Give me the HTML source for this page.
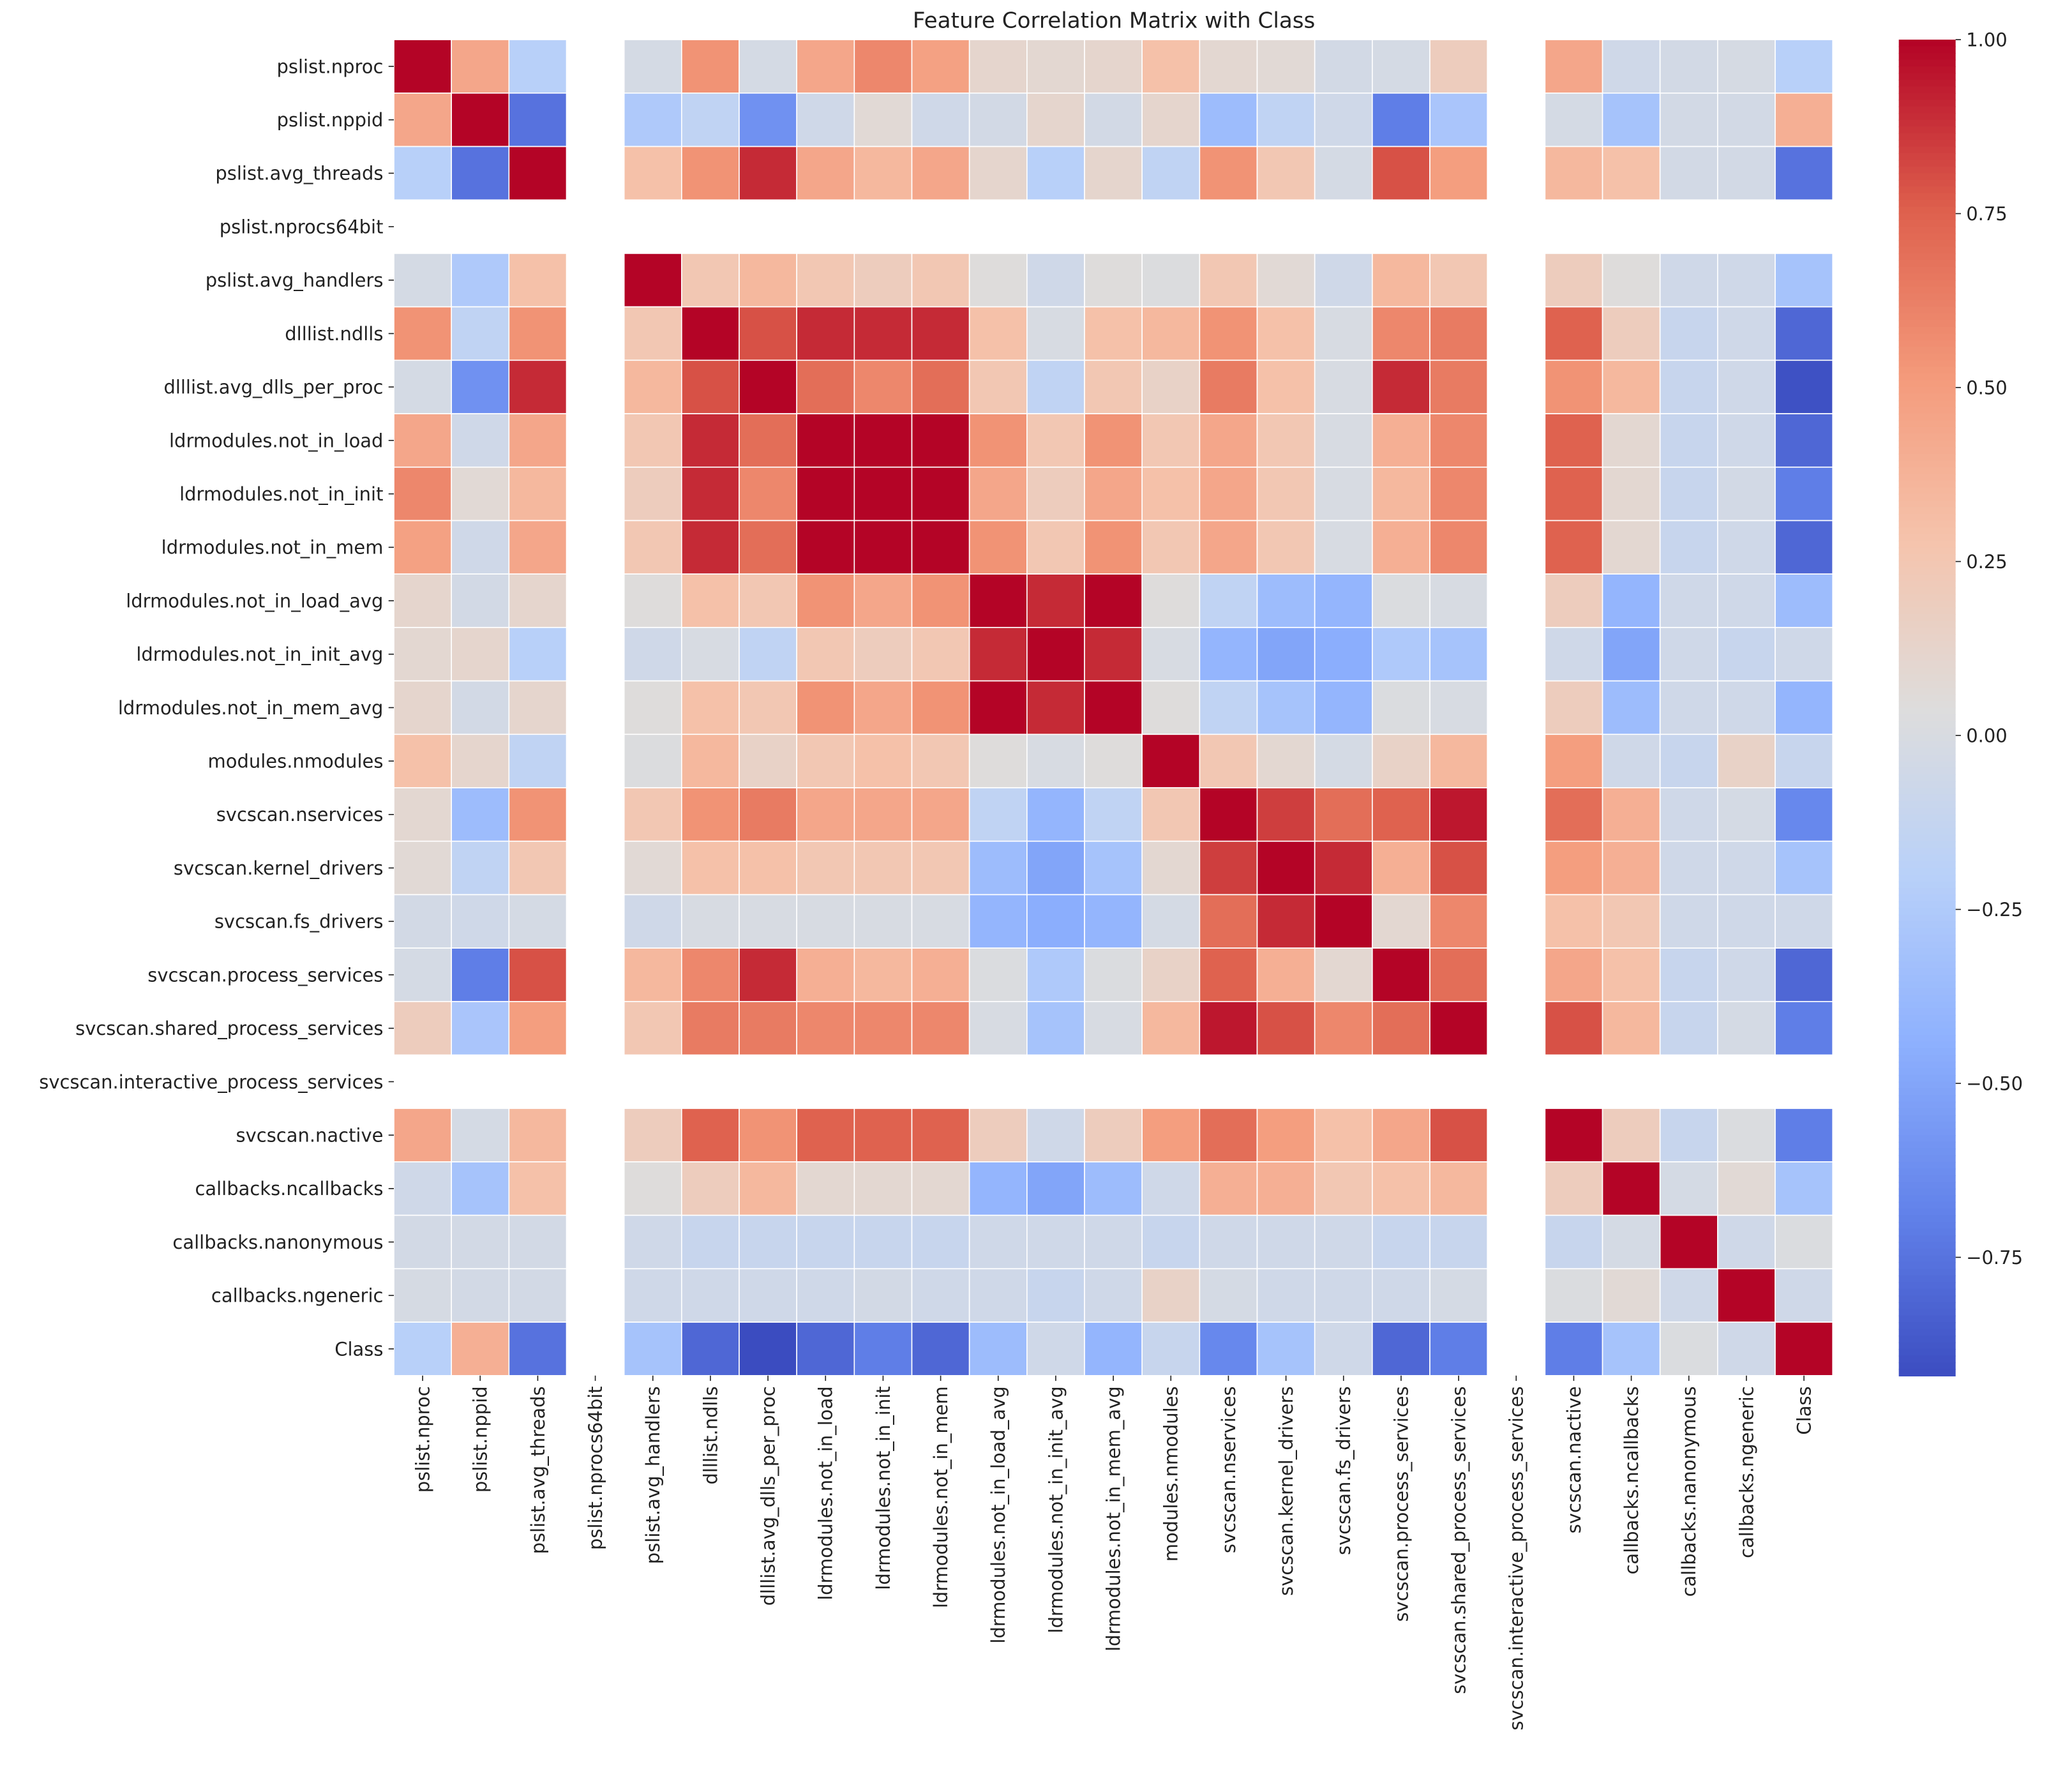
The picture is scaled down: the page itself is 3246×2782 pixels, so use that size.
<!DOCTYPE html>
<html><head><meta charset="utf-8"><style>
html,body{margin:0;padding:0;background:#fff;}
svg{display:block;}
text{font-family:"DejaVu Sans","Liberation Sans",sans-serif;fill:#222;}
</style></head><body>
<svg id="chart" width="3246" height="2782" viewBox="0 0 1568 1344" xmlns="http://www.w3.org/2000/svg">
<rect width="1568" height="1344" fill="#fff"/>
<text x="843" y="21" font-size="16.5" text-anchor="middle">Feature Correlation Matrix with Class</text>
<g id="cells"></g>
<g id="rowlabels"></g>
<g id="collabels"></g>
<g id="cbar"></g>
</svg>
<script>
const features = ["pslist.nproc","pslist.nppid","pslist.avg_threads","pslist.nprocs64bit","pslist.avg_handlers","dlllist.ndlls","dlllist.avg_dlls_per_proc","ldrmodules.not_in_load","ldrmodules.not_in_init","ldrmodules.not_in_mem","ldrmodules.not_in_load_avg","ldrmodules.not_in_init_avg","ldrmodules.not_in_mem_avg","modules.nmodules","svcscan.nservices","svcscan.kernel_drivers","svcscan.fs_drivers","svcscan.process_services","svcscan.shared_process_services","svcscan.interactive_process_services","svcscan.nactive","callbacks.ncallbacks","callbacks.nanonymous","callbacks.ngeneric","Class"];
const N = null;
const row0 = [1,.45,-.2,N,-.02,.55,-.02,.45,.6,.48,.12,.1,.12,.3,.1,.08,-.03,-.02,.2,N,.45,-.05,-.03,-.01,-.2];
const row1 = [.45,1,-.75,N,-.25,-.15,-.6,-.05,.08,-.05,-.03,.12,-.03,.12,-.35,-.15,-.05,-.7,-.28,N,-.02,-.3,-.03,-.03,.4];
const row2 = [-.2,-.75,1,N,.3,.55,.9,.45,.35,.45,.12,-.2,.12,-.15,.55,.25,-.02,.8,.5,N,.35,.3,-.03,-.03,-.75];
const row3 = [N,N,N,N,N,N,N,N,N,N,N,N,N,N,N,N,N,N,N,N,N,N,N,N,N];
const row4 = [-.02,-.25,.3,N,1,.25,.35,.25,.2,.25,.05,-.05,.05,.03,.25,.08,-.05,.35,.25,N,.2,.05,-.05,-.05,-.3];
const row5 = [.55,-.15,.55,N,.25,1,.8,.9,.9,.9,.3,0,.3,.35,.55,.3,0,.6,.65,N,.75,.2,-.1,-.05,-.8];
const row6 = [-.02,-.6,.9,N,.35,.8,1,.7,.6,.7,.25,-.15,.25,.15,.65,.3,0,.9,.65,N,.55,.35,-.1,-.05,-.9];
const row7 = [.45,-.05,.45,N,.25,.9,.7,1,1,1,.55,.25,.55,.25,.45,.25,0,.4,.6,N,.75,.1,-.1,-.05,-.8];
const row8 = [.6,.08,.35,N,.2,.9,.6,1,1,1,.45,.2,.45,.3,.45,.25,0,.35,.6,N,.75,.1,-.1,-.03,-.7];
const row9 = [.48,-.05,.45,N,.25,.9,.7,1,1,1,.55,.25,.55,.25,.45,.25,0,.4,.6,N,.75,.1,-.1,-.05,-.8];
const row10 = [.12,-.03,.12,N,.05,.3,.25,.55,.45,.55,1,.9,1,.05,-.15,-.35,-.4,.02,0,N,.2,-.4,-.05,-.05,-.35];
const row11 = [.1,.12,-.2,N,-.05,0,-.15,.25,.2,.25,.9,1,.9,0,-.4,-.5,-.45,-.25,-.3,N,-.05,-.5,-.05,-.1,-.05];
const row12 = [.12,-.03,.12,N,.05,.3,.25,.55,.45,.55,1,.9,1,.05,-.15,-.3,-.4,.02,0,N,.2,-.35,-.05,-.05,-.4];
const row13 = [.3,.12,-.15,N,.03,.35,.15,.25,.3,.25,.05,0,.05,1,.25,.1,-.02,.15,.35,N,.5,-.05,-.1,.15,-.1];
const row14 = [.1,-.35,.55,N,.25,.55,.65,.45,.45,.45,-.15,-.4,-.15,.25,1,.85,.7,.75,.95,N,.7,.4,-.05,-.02,-.65];
const row15 = [.08,-.15,.25,N,.08,.3,.3,.25,.25,.25,-.35,-.5,-.3,.1,.85,1,.9,.4,.8,N,.5,.4,-.05,-.05,-.3];
const row16 = [-.03,-.05,-.02,N,-.05,0,0,0,0,0,-.4,-.45,-.4,-.02,.7,.9,1,.1,.6,N,.3,.25,-.05,-.05,-.05];
const row17 = [-.02,-.7,.8,N,.35,.6,.9,.4,.35,.4,.02,-.25,.02,.15,.75,.4,.1,1,.7,N,.45,.3,-.1,-.05,-.8];
const row18 = [.2,-.28,.5,N,.25,.65,.65,.6,.6,.6,0,-.3,0,.35,.95,.8,.6,.7,1,N,.8,.35,-.1,-.02,-.7];
const row19 = [N,N,N,N,N,N,N,N,N,N,N,N,N,N,N,N,N,N,N,N,N,N,N,N,N];
const row20 = [.45,-.02,.35,N,.2,.75,.55,.75,.75,.75,.2,-.05,.2,.5,.7,.5,.3,.45,.8,N,1,.2,-.1,.02,-.7];
const row21 = [-.05,-.3,.3,N,.05,.2,.35,.1,.1,.1,-.4,-.5,-.35,-.05,.4,.4,.25,.3,.35,N,.2,1,-.02,.08,-.3];
const row22 = [-.03,-.03,-.03,N,-.05,-.1,-.1,-.1,-.1,-.1,-.05,-.05,-.05,-.1,-.05,-.05,-.05,-.1,-.1,N,-.1,-.02,1,-.05,.02];
const row23 = [-.01,-.03,-.03,N,-.05,-.05,-.05,-.05,-.03,-.05,-.05,-.1,-.05,.15,-.02,-.05,-.05,-.05,-.02,N,.02,.08,-.05,1,-.05];
const row24 = [-.2,.4,-.75,N,-.3,-.8,-.92,-.8,-.7,-.8,-.35,-.05,-.4,-.1,-.65,-.3,-.05,-.8,-.7,N,-.7,-.3,.02,-.05,1];
const matrix = [row0,row1,row2,row3,row4,row5,row6,row7,row8,row9,row10,row11,row12,row13,row14,row15,row16,row17,row18,row19,row20,row21,row22,row23,row24];
const cbarTicks = [1.0,0.75,0.5,0.25,0.0,-0.25,-0.5,-0.75];
const cbarTickLabels = ["1.00","0.75","0.50","0.25","0.00","\u22120.25","\u22120.50","\u22120.75"];

const NS="http://www.w3.org/2000/svg";
const X0=298,X1=1387,Y0=30,Y1=1041;
const n=features.length, cw=(X1-X0)/n, ch=(Y1-Y0)/n;
let vals=[];matrix.forEach(r=>r.forEach(v=>{if(v!==null)vals.push(v);}));
const vmin=Math.min(...vals), vmax=Math.max(...vals);
const stops=[[59,76,192],[98,130,234],[141,176,254],[184,208,249],[221,221,221],[245,196,173],[244,154,123],[222,96,77],[180,4,38]];
function cmap(v){let t=(v-vmin)/(vmax-vmin);t=Math.max(0,Math.min(1,t));const p=t*8,i=Math.min(7,Math.floor(p)),f=p-i;const a=stops[i],b=stops[i+1];return `rgb(${a.map((c,k)=>Math.round(c+(b[k]-c)*f)).join(',')})`;}
function xPos(j){return X0+j*cw;}
function yPos(i){return Y0+i*ch;}
function el(tag,attrs,parent){const e=document.createElementNS(NS,tag);for(const k in attrs)e.setAttribute(k,attrs[k]);parent.appendChild(e);return e;}
const cells=document.getElementById('cells');
matrix.forEach((r,i)=>r.forEach((v,j)=>{if(v===null)return;
 const c=el('rect',{x:xPos(j),y:yPos(i),width:cw,height:ch,fill:cmap(v),stroke:'#fff','stroke-width':0.8},cells);
 
 
}));
const rl=document.getElementById('rowlabels'),cl=document.getElementById('collabels');
features.forEach((f,i)=>{
 const y=yPos(i)+ch/2;
 el('line',{x1:X0-4,x2:X0,y1:y,y2:y,stroke:'#222','stroke-width':0.8},rl);
 const t=el('text',{x:X0-8,y:y+5,'font-size':14,'text-anchor':'end'},rl);t.textContent=f;
 
 
 const x=xPos(i)+cw/2;
 el('line',{x1:x,x2:x,y1:Y1,y2:Y1+4,stroke:'#222','stroke-width':0.8},cl);
 const c=el('text',{x:0,y:0,'font-size':14,'text-anchor':'end',transform:`translate(${x+5},${Y1+8}) rotate(-90)`},cl);c.textContent=f;
 
 
});
const cb=document.getElementById('cbar');const CX=1437,CW=43;
const steps=200;for(let k=0;k<steps;k++){const v=vmax-(vmax-vmin)*(k/steps);
 el('rect',{x:CX,y:Y0+(Y1-Y0)*k/steps,width:CW,height:(Y1-Y0)/steps+0.6,fill:cmap(v)},cb);}
function cy(v){return Y0+(vmax-v)/(vmax-vmin)*(Y1-Y0);}
cbarTicks.forEach((v,k)=>{const y=cy(v);
 el('line',{x1:CX+CW,x2:CX+CW+4,y1:y,y2:y,stroke:'#222','stroke-width':0.8},cb);
 const t=el('text',{x:CX+CW+8,y:y+5,'font-size':14},cb);t.textContent=cbarTickLabels[k];
 
 
});
</script>
</body></html>
